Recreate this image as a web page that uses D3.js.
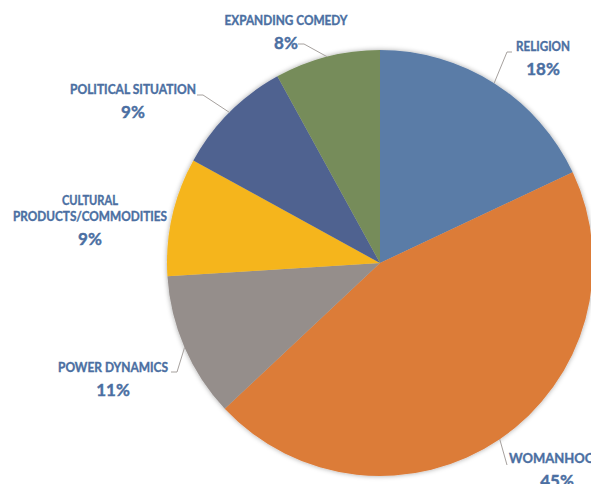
<!DOCTYPE html>
<html>
<head>
<meta charset="utf-8">
<script src="https://cdn.jsdelivr.net/npm/d3@7"></script>
<style>
  html, body { margin: 0; padding: 0; background: #ffffff; }
  svg { display: block; }
  text { font-family: Lato, "Open Sans", sans-serif; font-weight: bold; }
</style>
</head>
<body>
<div id="chart"></div>
<script>
// ---- data ----
const categories = ["RELIGION", "WOMANHOOD", "POWER DYNAMICS", "CULTURAL PRODUCTS/COMMODITIES", "POLITICAL SITUATION", "EXPANDING COMEDY"];
const values = [18, 45, 11, 9, 9, 8];
const labelLines = [["RELIGION"], ["WOMANHOOD"], ["POWER DYNAMICS"], ["CULTURAL", "PRODUCTS/COMMODITIES"], ["POLITICAL SITUATION"], ["EXPANDING COMEDY"]];
const colors = ["#5A7CA7", "#DC7B38", "#958E8B", "#F5B51B", "#506290", "#768C5A"];

// ---- layout (not data) ----
const W = 591, H = 484;
const cx = 380, cy = 263, R = 213;
// label centre x, first baseline y, leader elbow/end points, text widths
const labelLayout = [
  { x: 543, y: 51, line: [[507, 52], [512, 52]], w: [54] },
  { x: 557, y: 463, line: [[507, 465]], w: [96] },
  { x: 113, y: 372, line: [[177, 372], [171, 372]], w: [110] },
  { x: 90, y: 205, line: null, w: [56, 154] },
  { x: 133, y: 94, line: [[203, 95], [197, 95]], w: [126] },
  { x: 286, y: 25, line: [[304, 44], [298, 44]], w: [123] }
];

const svg = d3.select("#chart").append("svg").attr("width", W).attr("height", H);

const defs = svg.append("defs");
const f = defs.append("filter").attr("id", "shadow").attr("x", "-10%").attr("y", "-10%").attr("width", "120%").attr("height", "120%");
f.append("feDropShadow").attr("dx", 0).attr("dy", 0).attr("stdDeviation", 2.5).attr("flood-color", "#000").attr("flood-opacity", 0.35);

const pie = d3.pie().sort(null).value(d => d)(values);
const arc = d3.arc().innerRadius(0).outerRadius(R);

const g = svg.append("g").attr("transform", `translate(${cx},${cy})`);
g.append("g").attr("filter", "url(#shadow)")
  .selectAll("path").data(pie).join("path")
  .attr("d", arc)
  .attr("fill", (d, i) => colors[i]);

// leader lines
const lineGen = d3.line();
pie.forEach((d, i) => {
  const L = labelLayout[i];
  if (!L.line) return;
  const a = (d.startAngle + d.endAngle) / 2;
  const p0 = [cx + R * Math.sin(a), cy - R * Math.cos(a)];
  svg.append("path")
    .attr("d", lineGen([p0, ...L.line]))
    .attr("fill", "none")
    .attr("stroke", "#A6A19E")
    .attr("stroke-width", 1);
});

// labels
const labelColor = "#4B6FA2";
pie.forEach((d, i) => {
  const L = labelLayout[i];
  const t = svg.append("text").attr("text-anchor", "middle").attr("fill", labelColor)
    .attr("stroke", labelColor).attr("stroke-width", 0.35);
  labelLines[i].forEach((ln, j) => {
    t.append("tspan")
      .attr("x", L.x)
      .attr("y", L.y + j * 16)
      .attr("font-size", 12.5)
      .attr("textLength", L.w[j])
      .attr("lengthAdjust", "spacingAndGlyphs")
      .text(ln);
  });
  svg.append("text")
    .attr("text-anchor", "middle")
    .attr("fill", labelColor)
    .attr("stroke", labelColor).attr("stroke-width", 0.4)
    .attr("x", L.x)
    .attr("y", L.y + (labelLines[i].length - 1) * 16 + 24)
    .attr("font-size", 17)
    .text(values[i] + "%");
});
</script>
</body>
</html>
